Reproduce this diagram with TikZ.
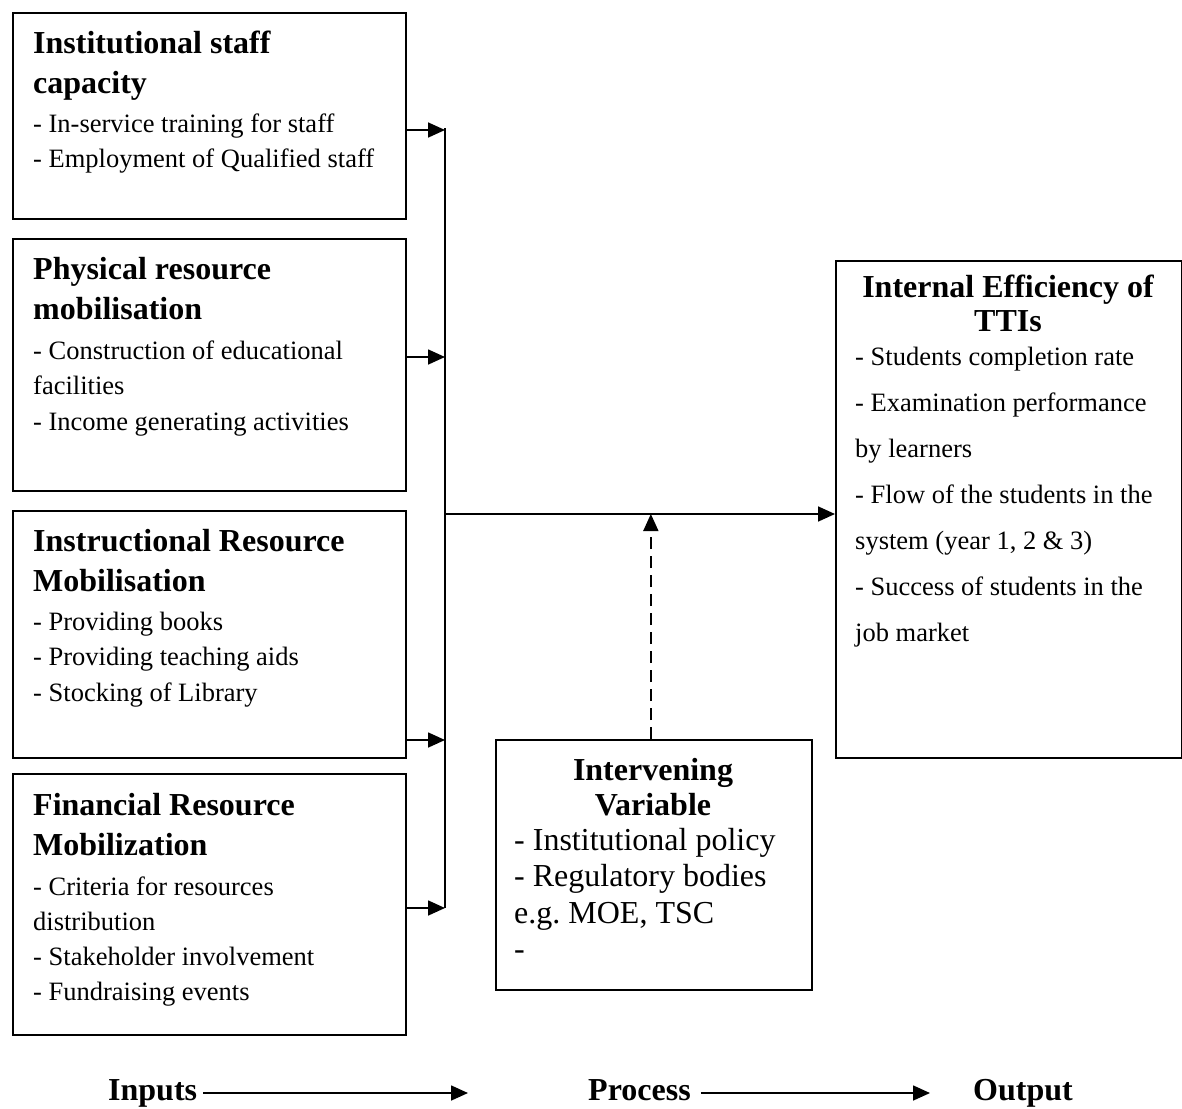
\documentclass[tikz,border=0pt]{standalone}
\usepackage{fontspec}
\setmainfont{Liberation Serif}
\usetikzlibrary{arrows.meta}

\tikzset{
  box/.style={draw, line width=1.7pt, inner sep=0pt, anchor=north west},
  head/.style={font=\bfseries\fontsize{32}{40}\selectfont, align=left, inner sep=0pt, anchor=base west},
  body/.style={font=\fontsize{26.5}{35.5}\selectfont, align=left, inner sep=0pt, anchor=base west},
  wire/.style={line width=1.7pt},
  arr/.style={line width=1.7pt, -{Triangle[length=17pt,width=15pt]}},
}

\begin{document}
\begin{tikzpicture}[x=1pt, y=-1pt]
    \useasboundingbox (0,0) rectangle (1182,1108);

    \node[box, minimum width=393pt, minimum height=206pt] (staff) at (12,12) {};
    \node[box, minimum width=393pt, minimum height=252pt] (phys) at (12,238) {};
    \node[box, minimum width=393pt, minimum height=247pt] (instr) at (12,510) {};
    \node[box, minimum width=393pt, minimum height=261pt] (fin) at (12,773) {};
    \node[box, minimum width=346pt, minimum height=497pt] (out) at (835,260) {};
    \node[box, minimum width=316pt, minimum height=250pt] (inter) at (495,739) {};

    \node[head] (staffhead) at (33,93) {Institutional staff\\capacity};
    \node[body] (staffbody) at (33,167.5) {- In-service training for staff\\- Employment of Qualified staff};
    \node[head] (physhead) at (33,319) {Physical resource\\mobilisation};
    \node[body] (physbody) at (33,430) {- Construction of educational\\facilities\\- Income generating activities};
    \node[head] (instrhead) at (33,591) {Instructional Resource\\Mobilisation};
    \node[body] (instrbody) at (33,701) {- Providing books\\- Providing teaching aids\\- Stocking of Library};
    \node[head] (finhead) at (33,855) {Financial Resource\\Mobilization};
    \node[body, font=\fontsize{26.5}{35}\selectfont] (finbody) at (33,1000) {- Criteria for resources\\distribution\\- Stakeholder involvement\\- Fundraising events};

    \node[head, align=center, anchor=base, font=\bfseries\fontsize{32}{34}\selectfont] (outhead) at (1008,331) {Internal Efficiency of\\TTIs};
    \node[body, font=\fontsize{26.5}{46}\selectfont] (outbody) at (855,641) {- Students completion rate\\- Examination performance\\by learners\\- Flow of the students in the\\system (year 1, 2 \& 3)\\- Success of students in the\\job market};

    \node[head, align=center, anchor=base, font=\bfseries\fontsize{32}{35}\selectfont] (interhead) at (653,815) {Intervening\\Variable};
    \node[body, font=\fontsize{32}{36.5}\selectfont] (interbody) at (514,959.5) {- Institutional policy\\- Regulatory bodies\\e.g.\ MOE, TSC\\-};

    \coordinate (bustop) at (445,128);
    \coordinate (busbot) at (445,908);
    \coordinate (busmid) at (445,514);
    \coordinate (in1) at (445,130);
    \coordinate (in2) at (445,357);
    \coordinate (in3) at (445,740);
    \coordinate (in4) at (445,908);
    \draw[wire] (bustop) -- (busbot);
    \foreach \b/\c in {staff/in1, phys/in2, instr/in3, fin/in4}
    \draw[arr] (\c -| \b.east) -- (\c);
    \draw[arr] (busmid) -- (busmid -| out.west);
    \draw[arr, dash pattern=on 12pt off 7pt] ([xshift=-3pt]inter.north) -- ([xshift=-3pt]inter.north |- busmid);

    \node[head, font=\bfseries\fontsize{32}{38}\selectfont] (inputs) at (108,1100) {Inputs};
    \node[head, font=\bfseries\fontsize{32}{38}\selectfont] (process) at (588,1100) {Process};
    \node[head, font=\bfseries\fontsize{32}{38}\selectfont] (output) at (973,1100) {Output};
    \coordinate (inend) at (468,1093);
    \coordinate (procend) at (930,1093);
    \draw[arr] (inend -| inputs.east) ++(6,0) -- (inend);
    \draw[arr] (procend -| process.east) ++(10,0) -- (procend);
  \end{tikzpicture}
\end{document}
